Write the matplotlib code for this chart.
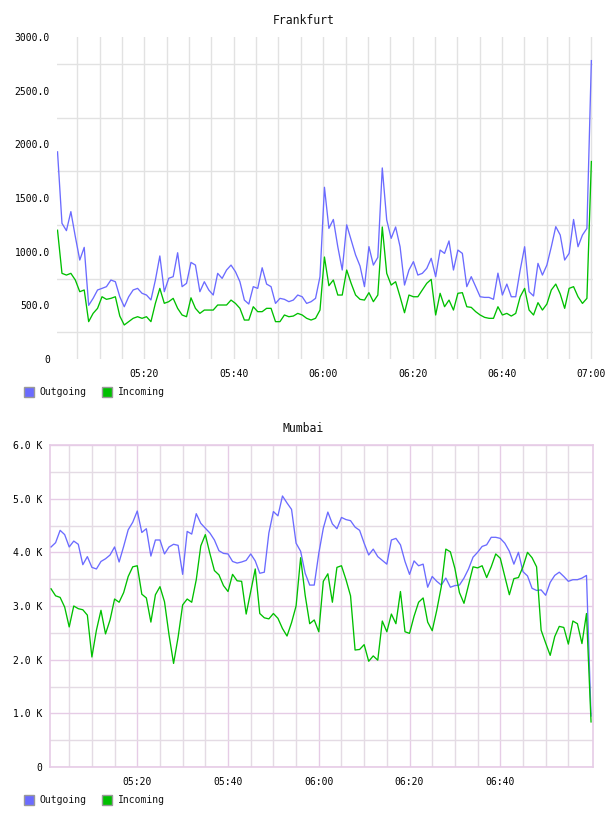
import matplotlib
matplotlib.use("Agg")
import matplotlib.pyplot as plt
import matplotlib.dates as mdates
from matplotlib.patches import Rectangle
from matplotlib.ticker import FixedLocator, FuncFormatter
import pandas as pd

# ---------------- data ----------------
series_names = ["Outgoing", "Incoming"]
series_colors = ["#6b6bff", "#00c000"]

# Frankfurt
fra_out = [1930, 1264, 1196, 1373, 1140, 922, 1040, 500, 565, 643,
           658, 674, 736, 720, 580, 487, 580, 643, 658, 612,
           596, 550, 736, 960, 627, 752, 767, 990, 674, 705,
           900, 875, 627, 720, 643, 596, 798, 751, 829, 875,
           813, 720, 549, 512, 674, 658, 850, 698, 674, 518,
           565, 556, 534, 549, 596, 580, 518, 534, 565, 767,
           1600, 1217, 1300, 1046, 829, 1250, 1109, 969, 866, 674,
           1047, 875, 947, 1780, 1295, 1124, 1230, 1046, 689, 829,
           907, 782, 798, 844, 938, 767, 1015, 984, 1100, 829,
           1015, 984, 674, 767, 674, 580, 574, 574, 556, 800,
           596, 698, 580, 580, 829, 1046, 627, 587, 891, 782,
           875, 1046, 1233, 1155, 922, 984, 1300, 1046, 1155, 1217,
           2780]
fra_in = [1200, 798, 782, 798, 736, 627, 643, 348, 425, 472,
          580, 556, 565, 580, 400, 317, 348, 379, 394, 379,
          394, 348, 519, 658, 519, 534, 565, 472, 410, 394,
          570, 472, 425, 456, 456, 456, 503, 503, 503, 549,
          518, 472, 363, 363, 487, 441, 441, 472, 472, 348,
          348, 410, 394, 400, 425, 410, 379, 363, 379, 456,
          950, 683, 736, 596, 596, 829, 705, 596, 556, 549,
          618, 534, 596, 1230, 798, 689, 720, 580, 431, 596,
          580, 580, 643, 705, 742, 410, 612, 487, 549, 456,
          612, 618, 487, 481, 441, 410, 388, 379, 379, 487,
          410, 425, 400, 425, 580, 658, 456, 410, 525, 456,
          512, 643, 698, 606, 472, 658, 674, 580, 518, 565,
          1840]
fra_start, fra_end = "2024-01-01 05:00:34", "2024-01-01 07:00:00"

# Mumbai (values in K)
mum_out = [4.10, 4.18, 4.41, 4.33, 4.10, 4.21, 4.15, 3.77, 3.92, 3.72,
           3.69, 3.83, 3.88, 3.95, 4.10, 3.82, 4.11, 4.42, 4.56, 4.77,
           4.37, 4.44, 3.93, 4.23, 4.23, 3.97, 4.10, 4.15, 4.13, 3.59,
           4.39, 4.34, 4.72, 4.54, 4.45, 4.36, 4.23, 4.03, 3.98, 3.97,
           3.83, 3.80, 3.82, 3.85, 3.97, 3.84, 3.61, 3.63, 4.36, 4.76,
           4.68, 5.05, 4.92, 4.80, 4.17, 4.02, 3.61, 3.39, 3.39, 3.98,
           4.45, 4.75, 4.53, 4.44, 4.65, 4.61, 4.59, 4.47, 4.41, 4.17,
           3.95, 4.06, 3.92, 3.85, 3.78, 4.23, 4.26, 4.14, 3.83, 3.59,
           3.84, 3.75, 3.78, 3.35, 3.55, 3.46, 3.39, 3.52, 3.35, 3.38,
           3.39, 3.52, 3.69, 3.91, 4.00, 4.11, 4.14, 4.28, 4.28, 4.26,
           4.17, 4.02, 3.78, 4.00, 3.64, 3.56, 3.33, 3.29, 3.30, 3.20,
           3.44, 3.57, 3.63, 3.55, 3.46, 3.49, 3.49, 3.52, 3.57, 0.95]
mum_in = [3.32, 3.19, 3.16, 2.98, 2.61, 3.00, 2.95, 2.93, 2.83, 2.05,
          2.55, 2.92, 2.48, 2.74, 3.13, 3.07, 3.25, 3.55, 3.73, 3.75,
          3.22, 3.15, 2.70, 3.21, 3.36, 3.08, 2.46, 1.93, 2.42, 3.02,
          3.13, 3.07, 3.49, 4.12, 4.33, 3.98, 3.66, 3.58, 3.38, 3.27,
          3.59, 3.47, 3.46, 2.85, 3.27, 3.69, 2.86, 2.78, 2.76, 2.86,
          2.77, 2.58, 2.44, 2.69, 3.00, 3.90, 3.20, 2.67, 2.74, 2.52,
          3.46, 3.60, 3.07, 3.72, 3.75, 3.49, 3.19, 2.18, 2.19, 2.28,
          1.97, 2.07, 1.99, 2.72, 2.52, 2.85, 2.67, 3.27, 2.52, 2.49,
          2.81, 3.07, 3.15, 2.70, 2.54, 2.92, 3.36, 4.06, 4.01, 3.70,
          3.25, 3.05, 3.39, 3.73, 3.71, 3.75, 3.53, 3.73, 3.97, 3.89,
          3.55, 3.21, 3.51, 3.53, 3.73, 4.00, 3.90, 3.73, 2.55, 2.31,
          2.08, 2.43, 2.62, 2.60, 2.29, 2.72, 2.67, 2.30, 2.86, 0.84]
mum_start = "2024-01-01 05:01:00"

fra_yticks = [0, 500, 1000, 1500, 2000, 2500, 3000]
fra_ygrid = [250, 750, 1250, 1750, 2250, 2750]
mum_yticks = [0, 1, 2, 3, 4, 5, 6]
mum_ygrid = [0.5, 1.5, 2.5, 3.5, 4.5, 5.5]
mum_xticks = ["05:20", "05:40", "06:00", "06:20", "06:40"]

# ---------------- figure ----------------
W, H = 608, 816
fig = plt.figure(figsize=(W / 100, H / 100), dpi=100)
FONT = "DejaVu Sans Mono"
plt.rcParams["font.family"] = [FONT]


def box(x0, y0, x1, y1):
    return [x0 / W, 1 - y1 / H, (x1 - x0) / W, (y1 - y0) / H]


GRAY = "#e2e2e2"
PINK = "#e6cce6"
PINK_MINOR = "#e4dbe4"
DAY = "2024-01-01 "

fra_times = pd.date_range(fra_start, fra_end, periods=len(fra_out))
mum_times = pd.date_range(mum_start, periods=len(mum_out), freq="1min")

# ---- Frankfurt ----
ax1 = fig.add_axes(box(57, 37, 593.3, 359))
ax1.plot(fra_times, fra_out, color=series_colors[0], lw=0.95, zorder=3)
ax1.plot(fra_times, fra_in, color=series_colors[1], lw=0.95, zorder=4)
ax1.set_ylim(0, 3000)
ax1.set_xlim(pd.Timestamp(DAY + "05:00:27"), pd.Timestamp(DAY + "07:00:26"))
ax1.set_yticks(fra_yticks)
ax1.yaxis.set_major_formatter(FuncFormatter(lambda v, p: "0" if v == 0 else f"{v:.1f}"))
ax1.yaxis.set_minor_locator(FixedLocator(fra_ygrid))
ax1.xaxis.set_major_locator(mdates.MinuteLocator(byminute=[0, 20, 40]))
ax1.xaxis.set_minor_locator(mdates.MinuteLocator(byminute=list(range(0, 60, 5))))
ax1.xaxis.set_major_formatter(mdates.DateFormatter("%H:%M"))
ax1.grid(True, which="minor", axis="y", color=GRAY, lw=1.0)
ax1.grid(True, which="both", axis="x", color=GRAY, lw=1.0)
ax1.grid(False, which="major", axis="y")
for s in ax1.spines.values():
    s.set_visible(False)
ax1.tick_params(which="both", length=0)
ax1.tick_params(axis="y", pad=5, labelsize=7)
ax1.tick_params(axis="x", pad=7, labelsize=7)
ax1.set_axisbelow(True)

# ---- Mumbai ----
ax2 = fig.add_axes(box(50.3, 445, 593.3, 767))
ax2.plot(mum_times, mum_out, color=series_colors[0], lw=0.95, zorder=3)
ax2.plot(mum_times, mum_in, color=series_colors[1], lw=0.95, zorder=4)
ax2.set_ylim(0, 6)
ax2.set_xlim(pd.Timestamp(DAY + "05:00:50"), pd.Timestamp(DAY + "07:00:30"))
ax2.set_yticks(mum_yticks)
ax2.yaxis.set_major_formatter(FuncFormatter(lambda v, p: "0" if v == 0 else f"{v:.1f} K"))
ax2.yaxis.set_minor_locator(FixedLocator(mum_ygrid))
major_x = [mdates.date2num(pd.Timestamp(DAY + t)) for t in mum_xticks]
minor_x = [mdates.date2num(t) for t in
           pd.date_range(DAY + "05:05", DAY + "06:55", freq="5min")]
ax2.xaxis.set_major_locator(FixedLocator(major_x))
ax2.xaxis.set_minor_locator(FixedLocator(minor_x))
ax2.xaxis.set_major_formatter(mdates.DateFormatter("%H:%M"))
ax2.grid(True, which="major", color=PINK, lw=1.0)
ax2.grid(True, which="minor", color=PINK_MINOR, lw=1.0)
for s in ax2.spines.values():
    s.set_color(PINK)
    s.set_linewidth(1.2)
ax2.tick_params(which="both", length=0)
ax2.tick_params(axis="y", pad=6, labelsize=7)
ax2.tick_params(axis="x", pad=7, labelsize=7)
ax2.set_axisbelow(True)

# ---- titles ----
fig.text(304 / W, 1 - 20.5 / H, "Frankfurt", ha="center", va="center", fontsize=8.3, color="#111111")
fig.text(303 / W, 1 - 428 / H, "Mumbai", ha="center", va="center", fontsize=8.3, color="#111111")

# ---- legends ----
for yc in (392, 800):
    for (sx, tx), name, col in zip([(24, 39), (102, 118)], series_names, series_colors):
        fig.patches.append(Rectangle((sx / W, 1 - (yc + 5) / H), 10 / W, 10 / H,
                                     transform=fig.transFigure, facecolor=col,
                                     edgecolor="#999999", lw=1.0))
        fig.text(tx / W, 1 - yc / H, name, ha="left", va="center", fontsize=7, color="#111111")

fig.savefig("out.png", dpi=100, facecolor="white")
